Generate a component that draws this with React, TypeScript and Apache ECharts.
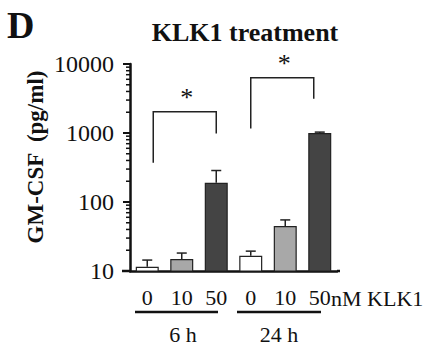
import React, { useEffect, useRef } from "react";
import * as echarts from "echarts";

const categories = ["0", "10", "50", "0", "10", "50"];
const means = [11.5, 14.9, 190, 16.6, 45, 1000];
const errTops = [14.4, 18.2, 286, 19.4, 55, 1030];
const barColors = ["#ffffff", "#a8a8a8", "#444444", "#ffffff", "#a8a8a8", "#444444"];
const yTicks = [10, 100, 1000, 10000];
const minorTicks = [20, 30, 40, 50, 60, 70, 80, 90, 200, 300, 400, 500, 600, 700, 800, 900, 2000, 3000, 4000, 5000, 6000, 7000, 8000, 9000];
// brackets: [leftCat, rightCat, topValue, leftBottomValue, rightBottomValue]
const brackets = [
  [0, 2, 2040, 370, 980],
  [3, 5, 6300, 1160, 3130],
];
const sigLabels = ["*", "*"];
const groupLabels = ["6 h", "24 h"];
const unitLabel = "nM KLK1";

const SERIF = "Liberation Serif";

export default function App() {
  const ref = useRef<HTMLDivElement>(null);
  useEffect(() => {
    const chart = echarts.init(ref.current!, undefined, { renderer: "svg" });
    const option: any = {
      animation: false,
      textStyle: { fontFamily: SERIF },
      grid: { left: 130, right: 88, top: 64, bottom: 77 },
      title: {
        text: "KLK1 treatment",
        left: 240,
        top: 14,
        textAlign: "center",
        textStyle: { fontFamily: SERIF, fontWeight: "bold", fontSize: 26, color: "#111" },
      },
      xAxis: {
        type: "category",
        data: categories,
        axisLine: { lineStyle: { color: "#111", width: 2.5 } },
        axisTick: { alignWithLabel: true, length: 8, lineStyle: { color: "#111", width: 2.5 } },
        axisLabel: { fontFamily: SERIF, fontSize: 22, color: "#111", margin: 15 },
      },
      yAxis: {
        type: "log",
        logBase: 10,
        min: yTicks[0],
        max: yTicks[yTicks.length - 1],
        splitLine: { show: false },
        axisLine: { show: true, lineStyle: { color: "#111", width: 2.5 } },
        axisTick: { show: true, length: 7, lineStyle: { color: "#111", width: 2 } },
        axisLabel: { fontFamily: SERIF, fontSize: 24, color: "#111", margin: 16, formatter: (v: number) => String(Math.round(v)) },
      },
      series: [
        {
          type: "bar",
          barWidth: 23,
          data: means.map((v, i) => ({
            value: v,
            itemStyle: { color: barColors[i], borderColor: "#222", borderWidth: 1.2 },
          })),
        },
        {
          type: "custom",
          clip: false,
          data: means.map((m, i) => [i, m, errTops[i]]),
          renderItem: (params: any, api: any) => {
            const base = api.coord([api.value(0), api.value(1)]);
            const top = api.coord([api.value(0), api.value(2)]);
            return {
              type: "group",
              children: [
                { type: "line", shape: { x1: base[0], y1: base[1], x2: top[0], y2: top[1] }, style: { stroke: "#222", lineWidth: 1.5 } },
                { type: "line", shape: { x1: top[0] - 5, y1: top[1], x2: top[0] + 5, y2: top[1] }, style: { stroke: "#222", lineWidth: 1.5 } },
              ],
            };
          },
        },
        {
          type: "custom",
          clip: false,
          data: minorTicks.map((v) => [0, v]),
          renderItem: (params: any, api: any) => {
            const p = api.coord([0, api.value(1)]);
            const x0 = params.coordSys.x;
            return { type: "line", shape: { x1: x0 - 4, y1: p[1], x2: x0, y2: p[1] }, style: { stroke: "#111", lineWidth: 1.5 } };
          },
        },
        {
          type: "custom",
          clip: false,
          data: brackets,
          renderItem: (params: any, api: any) => {
            const i = params.dataIndex;
            const lOff = i === 0 ? 6 : 0;
            const rOff = i === 0 ? 0 : -6;
            const tl = api.coord([api.value(0), api.value(2)]);
            const tr = api.coord([api.value(1), api.value(2)]);
            const lb = api.coord([api.value(0), api.value(3)]);
            const rb = api.coord([api.value(1), api.value(4)]);
            const xl = tl[0] + lOff;
            const xr = tr[0] + rOff;
            return {
              type: "group",
              children: [
                { type: "polyline", shape: { points: [[xl, lb[1]], [xl, tl[1]], [xr, tl[1]], [xr, rb[1]]] }, style: { stroke: "#222", lineWidth: 1.5, fill: null } },
                { type: "text", x: (xl + xr) / 2 + 2, y: tl[1] - 1, style: { text: sigLabels[i], fontFamily: SERIF, fontSize: 26, fill: "#111", align: "center", verticalAlign: "bottom" } },
              ],
            };
          },
        },
      ],
      graphic: [
        { type: "text", left: 7, top: 6, style: { text: "D", fontFamily: SERIF, fontWeight: "bold", fontSize: 38, fill: "#111" } },
        { type: "text", x: 35, y: 157, rotation: Math.PI / 2, style: { text: "GM-CSF  (pg/ml)", fontFamily: SERIF, fontWeight: "bold", fontSize: 23, fill: "#111", align: "center", verticalAlign: "middle" } },
        { type: "text", x: 331, y: 298, style: { text: unitLabel, fontFamily: SERIF, fontSize: 22, fill: "#111", align: "left", verticalAlign: "middle" } },
        { type: "line", shape: { x1: 122, y1: 271, x2: 131, y2: 271 }, style: { stroke: "#111", lineWidth: 2.5 } },
        { type: "line", shape: { x1: 337, y1: 271, x2: 340, y2: 271 }, style: { stroke: "#111", lineWidth: 2.5 } },
        { type: "line", shape: { x1: 135, y1: 312, x2: 218, y2: 312 }, style: { stroke: "#111", lineWidth: 2.5 } },
        { type: "line", shape: { x1: 237, y1: 312, x2: 321, y2: 312 }, style: { stroke: "#111", lineWidth: 2.5 } },
        { type: "text", x: 183, y: 334, style: { text: groupLabels[0], fontFamily: SERIF, fontSize: 22, fill: "#111", align: "center", verticalAlign: "middle" } },
        { type: "text", x: 279, y: 334, style: { text: groupLabels[1], fontFamily: SERIF, fontSize: 22, fill: "#111", align: "center", verticalAlign: "middle" } },
      ],
    };
    chart.setOption(option);
    return () => chart.dispose();
  }, []);
  return <div ref={ref} style={{ width: 425, height: 348, position: "absolute", left: 0, top: 0 }} />;
}
